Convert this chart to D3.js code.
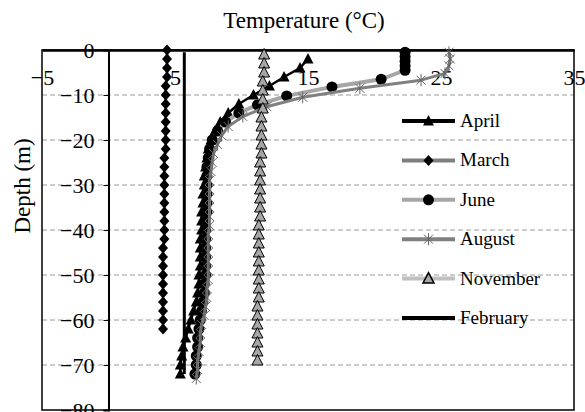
<!DOCTYPE html>
<html lang="en">
	<head>
		<meta charset="utf-8">
		<title>Temperature profiles</title>
		<script type="text/javascript" src="https://d3js.org/d3.v7.min.js"></script>
		<style>
			body { margin:0; background:#fff; }
			text { font-family:"Liberation Serif","Times New Roman",serif; }
		</style>
	</head>
	<body>
		<svg id="chart"></svg>
		<script>
			// depth (m) and temperature (°C) per month
			var aprilDepth = [-2,-4,-6,-8,-10,-12,-14,-16,-18,-20,-22,-24,-26,-28,-30,-32,-34,-36,
							  -38,-40,-42,-44,-46,-48,-50,-52,-54,-56,-58,-60,-62,-64,-66,-68,-70,-72];
			var aprilTemp = [15.0,14.4,13.2,12.1,10.9,9.8,9.0,8.4,8.0,7.7,7.5,7.4,7.3,7.2,7.2,7.1,7.1,7.0,
							 7.0,7.0,6.9,6.9,6.9,6.9,6.8,6.8,6.7,6.6,6.4,6.2,6.0,5.8,5.6,5.5,5.4,5.4];

			var marchDepth = [0,-2,-4,-6,-8,-10,-12,-14,-16,-18,-20,-22,-24,-26,-28,-30,
							  -32,-34,-36,-38,-40,-42,-44,-46,-48,-50,-52,-54,-56,-58,-60,-62];
			var marchTemp = [4.4,4.4,4.4,4.4,4.3,4.3,4.3,4.3,4.3,4.3,4.3,4.3,4.2,4.2,4.2,4.2,
							 4.2,4.2,4.2,4.2,4.2,4.2,4.1,4.1,4.1,4.1,4.1,4.1,4.1,4.1,4.1,4.1];

			var juneDepth = [-0.5,-1.5,-2.5,-3.5,-4.5,-6.5,-8.2,-10.2,-12.2,-14,-16,-18,-20,-22,-24,-26,-28,
							 -30,-32,-34,-36,-38,-40,-42,-44,-46,-48,-50,-52,-54,-56,-58,-60,-62,-64,-66,-68,-70,-72];
			var juneTemp = [22.3,22.3,22.3,22.3,22.3,20.5,16.8,13.4,11.2,9.8,8.8,8.2,7.8,7.6,7.5,7.4,7.4,
							7.4,7.4,7.4,7.4,7.3,7.3,7.3,7.3,7.3,7.3,7.3,7.2,7.2,7.1,7.0,6.9,6.8,6.7,6.7,6.6,6.6,6.5];

			var augustDepth = [-0.5,-2,-3.5,-5.2,-6.7,-8.5,-10.5,-12.6,-14.8,-17,-19,-21,-23,-25,-27,-29,-31,
							   -33,-35,-37,-39,-41,-43,-45,-47,-49,-51,-53,-55,-57,-59,-61,-63,-65,-67,-69,-71,-73];
			var augustTemp = [25.6,25.7,25.6,25.3,23.5,18.9,14.6,11.9,10.1,9.0,8.5,8.2,7.9,7.8,7.7,7.6,7.6,
							  7.6,7.6,7.6,7.6,7.5,7.5,7.5,7.5,7.5,7.5,7.4,7.4,7.3,7.2,7.0,6.9,6.9,6.8,6.7,6.7,6.6];

			var novemberDepth = [-1,-3,-5,-7,-9,-11,-13,-15,-17,-19,-21,-23,-25,-27,-29,-31,-33,-35,
								 -37,-39,-41,-43,-45,-47,-49,-51,-53,-55,-57,-59,-61,-63,-65,-67,-69];
			var novemberTemp = [11.7,11.7,11.7,11.6,11.6,11.6,11.6,11.5,11.5,11.5,11.5,11.5,11.4,11.4,11.4,11.4,11.4,11.4,
								11.4,11.3,11.3,11.3,11.3,11.3,11.3,11.3,11.3,11.3,11.2,11.2,11.2,11.2,11.2,11.2,11.2];

			var februaryDepth = [-0.5,-72];
			var februaryTemp = [5.7,5.7];

			var seriesNames = ["April","March","June","August","November","February"];
			var xTicks = [-5,5,15,25,35];
			var yTicks = [0,-10,-20,-30,-40,-50,-60,-70,-80];

			var width = 585;
			var height = 412;
			var plot = {left:42,right:574,top:50,bottom:410};

			var svg = d3.select("#chart")
				.attr("width",width)
				.attr("height",height);

			var xScale = d3.scaleLinear()
				.domain([-5,35])
				.range([plot.left,plot.right]);

			var yScale = d3.scaleLinear()
				.domain([0,-80])
				.range([plot.top,plot.bottom]);

			function pairs(t,d){
				return t.map((v,i)=>({t:v,d:d[i]}));
			}

			var series = [
				{name:seriesNames[0],data:pairs(aprilTemp,aprilDepth),line:"#000",lw:2.5,marker:"triangle",fill:"#000",stroke:"none"},
				{name:seriesNames[1],data:pairs(marchTemp,marchDepth),line:"#7f7f7f",lw:3,marker:"diamond",fill:"#000",stroke:"none"},
				{name:seriesNames[2],data:pairs(juneTemp,juneDepth),line:"#a6a6a6",lw:4,marker:"circle",fill:"#000",stroke:"none"},
				{name:seriesNames[3],data:pairs(augustTemp,augustDepth),line:"#808080",lw:3,marker:"star",fill:"none",stroke:"#666"},
				{name:seriesNames[4],data:pairs(novemberTemp,novemberDepth),line:"#bfbfbf",lw:3,marker:"triangle",fill:"#a6a6a6",stroke:"#000"},
				{name:seriesNames[5],data:pairs(februaryTemp,februaryDepth),line:"#000",lw:3,marker:null}
			];

			// grid lines
			svg.append("g")
				.selectAll("line")
				.data(yTicks.filter(v=>v!=0 && v!=-80))
				.enter()
				.append("line")
				.attr("x1",plot.left)
				.attr("x2",plot.right)
				.attr("y1",d=>yScale(d))
				.attr("y2",d=>yScale(d))
				.attr("stroke","#9a9a9a")
				.attr("stroke-width",1)
				.attr("stroke-dasharray","5,3");

			// frame
			svg.append("rect")
				.attr("x",plot.left)
				.attr("y",plot.top)
				.attr("width",plot.right-plot.left)
				.attr("height",plot.bottom-plot.top)
				.attr("fill","none")
				.attr("stroke","#000")
				.attr("stroke-width",1.5);

			// y axis at x = 0
			var yAxis = svg.append("g")
				.attr("transform","translate("+xScale(0)+",0)")
				.call(d3.axisLeft(yScale).tickValues(yTicks).tickSize(5).tickPadding(9).tickFormat(d3.format("d")));
			yAxis.select(".domain").attr("stroke-width",2);
			yAxis.selectAll("text")
				.attr("font-size","22px")
				.attr("fill","#000")
				.attr("font-family","Liberation Serif, serif");

			// x axis at depth 0
			var xAxis = svg.append("g")
				.attr("transform","translate(0,"+yScale(0)+")")
				.call(d3.axisBottom(xScale).tickValues(xTicks).tickSize(0));
			xAxis.select(".domain").attr("stroke-width",2.5);
			xAxis.selectAll("text")
				.attr("dy",null)
				.attr("y",35)
				.attr("font-size","22px")
				.attr("fill","#000")
				.attr("font-family","Liberation Serif, serif");

			function markerPath(type){
				if(type=="star") return "M-4.5,-4.5L4.5,4.5M-4.5,4.5L4.5,-4.5M0,-6L0,6";
				if(type=="triangle") return "M0,-6L5.5,4.5L-5.5,4.5Z";
				if(type=="diamond") return "M0,-5.5L5,0L0,5.5L-5,0Z";
				return d3.symbol(d3.symbolCircle,95)();
			}

			var line = d3.line()
				.x(d=>xScale(d.t))
				.y(d=>yScale(d.d));

			series.forEach(function(s){
				svg.append("path")
					.datum(s.data)
					.attr("d",line)
					.attr("fill","none")
					.attr("stroke",s.line)
					.attr("stroke-width",s.lw)
					.attr("stroke-linejoin","round");
				if(s.marker){
					svg.append("g")
						.selectAll("path")
						.data(s.data)
						.enter()
						.append("path")
						.attr("transform",d=>"translate("+xScale(d.t)+","+yScale(d.d)+")")
						.attr("d",markerPath(s.marker))
						.attr("fill",s.fill)
						.attr("stroke",s.stroke)
						.attr("stroke-width",1);
				}
			});

			// legend
			var legend = svg.append("g")
				.selectAll("g")
				.data(series)
				.enter()
				.append("g")
				.attr("transform",(d,i)=>"translate(402,"+(121+i*39.4)+")");
			legend.append("line")
				.attr("x1",0)
				.attr("x2",53)
				.attr("stroke",d=>d.line)
				.attr("stroke-width",4);
			legend.filter(d=>d.marker)
				.append("path")
				.attr("transform","translate(26.5,0)")
				.attr("d",d=>markerPath(d.marker))
				.attr("fill",d=>d.fill)
				.attr("stroke",d=>d.stroke)
				.attr("stroke-width",d=>d.marker=="star"?1:1.5);
			legend.append("text")
				.attr("x",58)
				.attr("y",6)
				.attr("font-size","19px")
				.text(d=>d.name);

			// titles
			svg.append("text")
				.attr("x",304)
				.attr("y",28)
				.attr("text-anchor","middle")
				.attr("font-size","23px")
				.text("Temperature (°C)");

			svg.append("text")
				.attr("transform","translate(30,186) rotate(-90)")
				.attr("text-anchor","middle")
				.attr("font-size","23px")
				.text("Depth (m)");
		</script>
	</body>
</html>
